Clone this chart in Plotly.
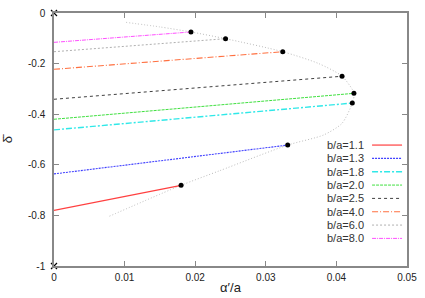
import plotly.graph_objects as go

ratios = ["1.1", "1.3", "1.8", "2.0", "2.5", "4.0", "6.0", "8.0"]
y_start = [-0.780, -0.636, -0.462, -0.420, -0.341, -0.2226, -0.153, -0.116]
x_end = [0.0180, 0.0331, 0.04225, 0.04248, 0.0408, 0.0324, 0.0243, 0.0194]
y_end = [-0.681, -0.522, -0.356, -0.3175, -0.250, -0.153, -0.1016, -0.075]

env_x = [0.0102, 0.0150, 0.0194, 0.0243, 0.0324, 0.0375, 0.0408, 0.0425, 0.04225, 0.0408, 0.0382, 0.0331, 0.0235, 0.0180, 0.0077]
env_y = [-0.037, -0.055, -0.075, -0.1016, -0.153, -0.200, -0.250, -0.3175, -0.356, -0.436, -0.482, -0.522, -0.623, -0.681, -0.805]

corner_x = [0, 0]
corner_y = [0, -1]

x_ticks = [0, 0.01, 0.02, 0.03, 0.04, 0.05]
x_tick_text = ["0", "0.01", "0.02", "0.03", "0.04", "0.05"]
y_ticks = [0, -0.2, -0.4, -0.6, -0.8, -1]
y_tick_text = ["0", "-0.2", "-0.4", "-0.6", "-0.8", "-1"]

colors = ["#ff4040", "#4040ff", "#30e8e8", "#40e040", "#404040", "#ff7040", "#b0b0b0", "#ff50ff"]
dashes = ["solid", "2px,1px", "6px,2px,2px,2px", "3px,1px", "3px,3px", "6px,2px,1px,2px", "2px,2px", "4px,1px,1px,1px"]
widths = [1.2, 1.1, 1.4, 1.0, 1.0, 1.1, 1.0, 1.0]

fig = go.Figure()

fig.add_trace(go.Scatter(x=env_x, y=env_y, mode="lines",
                         line=dict(color="#bdbdbd", width=1, dash="1px,2px", shape="spline", smoothing=0.7),
                         showlegend=False, hoverinfo="skip"))

for i, r in enumerate(ratios):
    fig.add_trace(go.Scatter(x=[0, x_end[i]], y=[y_start[i], y_end[i]], mode="lines",
                             line=dict(color=colors[i], width=widths[i], dash=dashes[i]),
                             name="b/a=" + r, showlegend=False))

fig.add_trace(go.Scatter(x=x_end, y=y_end, mode="markers", marker=dict(color="black", size=5),
                         showlegend=False))
fig.add_trace(go.Scatter(x=corner_x, y=corner_y, mode="markers",
                         marker=dict(symbol="x-thin", size=6, line=dict(color="black", width=1.2)),
                         showlegend=False, cliponaxis=False))

# manual legend (text then line sample, as in reference)
shapes = []
annotations = []
y0 = 0.478
step = 0.0527
for i, r in enumerate(ratios):
    yy = y0 - i * step
    annotations.append(dict(x=0.883, y=yy, xref="paper", yref="paper", text="b/a=" + r, showarrow=False,
                            xanchor="right", yanchor="middle", font=dict(size=11, color="#333")))
    shapes.append(dict(type="line", xref="paper", yref="paper", x0=0.901, x1=0.986, y0=yy, y1=yy,
                       line=dict(color=colors[i], width=widths[i], dash=dashes[i])))

axis_common = dict(showgrid=False, zeroline=False, showline=True, linecolor="#888888", linewidth=1.5,
                   mirror="ticks", ticks="inside", ticklen=5, tickcolor="#888888", tickwidth=1,
                   automargin=False,
                   tickfont=dict(size=10, color="#222", family="Liberation Sans, Arial"))

fig.update_layout(
    width=425, height=298,
    margin=dict(l=54, r=18, t=13, b=32, autoexpand=False),
    plot_bgcolor="white", paper_bgcolor="white",
    xaxis=dict(range=[0, 0.05], tickvals=x_ticks, ticktext=x_tick_text, ticklabelstandoff=1,
               title=dict(text="α′/a", font=dict(size=13, color="#222", family="Liberation Sans, Arial"), standoff=1),
               **axis_common),
    yaxis=dict(range=[-1, 0], tickvals=y_ticks, ticktext=y_tick_text, ticklabelstandoff=5,
               title=dict(text="δ̄", font=dict(size=13, color="#222", family="Liberation Sans, Arial"), standoff=16),
               **axis_common),
    shapes=shapes, annotations=annotations, showlegend=False,
    font=dict(family="Liberation Sans, Arial"),
)

fig.write_html("out.html", config={"displayModeBar": False},
               post_script="document.body.style.margin='0';document.body.style.overflow='hidden';")
